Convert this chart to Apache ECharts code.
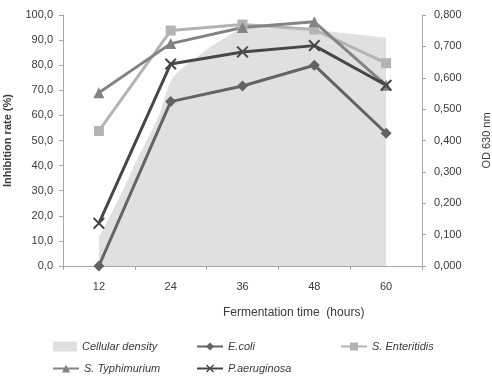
<!DOCTYPE html>
<html>
<head>
<meta charset="utf-8">
<script src="https://cdn.jsdelivr.net/npm/echarts@6/dist/echarts.min.js"></script>
<style>html,body{margin:0;padding:0;background:#fff;}#chart{width:492px;height:383px;}</style>
</head>
<body>
<div id="chart"></div>
<script>
var categories = ['12', '24', '36', '48', '60'];
var leftTicks = [0, 10, 20, 30, 40, 50, 60, 70, 80, 90, 100];
var rightTicks = [0, 0.1, 0.2, 0.3, 0.4, 0.5, 0.6, 0.7, 0.8];
var eColi = [0, 65.5, 71.7, 80.0, 52.9];
var sEnteritidis = [53.8, 93.8, 96.2, 94.2, 80.8];
var sTyphimurium = [69.0, 88.6, 95.0, 97.3, 72.0];
var pAeruginosa = [17.0, 80.5, 85.3, 87.8, 72.0];
var densityHours = [12, 14, 16, 18, 20, 22, 24, 26, 28, 30, 32, 34, 36, 42, 48, 60];
var densityOD = [0.092, 0.165, 0.24, 0.325, 0.40, 0.478, 0.59, 0.632, 0.66, 0.69, 0.715, 0.738, 0.758, 0.757, 0.752, 0.727];

var FONT = 'Liberation Sans';
var TXT = '#3a3a3a';
var AX = '#a6a6a6';

var densityData = densityHours.map(function (h, i) { return [h, densityOD[i]]; });
var xMark = 'path://M0,1.2L1.2,0L5,3.8L8.8,0L10,1.2L6.2,5L10,8.8L8.8,10L5,6.2L1.2,10L0,8.8L3.8,5Z';

function leg(name, left, top, w, h, icon) {
  var o = {
    data: [name], left: left, top: top, itemWidth: w, itemHeight: h, itemGap: 0, padding: 0,
    textStyle: { fontFamily: FONT, fontSize: 11, fontStyle: 'italic', color: TXT }
  };
  if (icon) o.icon = icon;
  return o;
}

var chart = echarts.init(document.getElementById('chart'), null, { renderer: 'canvas' });
chart.setOption({
  animation: false,
  backgroundColor: '#ffffff',
  grid: { left: 63, right: 70, top: 15, bottom: 117, containLabel: false, outerBoundsMode: 'none' },
  legend: [
    leg('Cellular density', 53, 341, 24, 10, 'rect'),
    leg('E.coli', 196, 341, 26, 10),
    leg('S. Enteritidis', 340, 341, 26, 10),
    leg('S. Typhimurium', 52, 363, 26, 10),
    leg('P.aeruginosa', 196, 363, 26, 10)
  ],
  graphic: [{
    type: 'text', left: 223, top: 307,
    style: { text: 'Fermentation time  (hours)', font: '12px "' + FONT + '"', fill: TXT }
  }],
  xAxis: [{
    type: 'category', data: categories, boundaryGap: true,
    axisLine: { lineStyle: { color: AX, width: 1 } },
    axisTick: { show: true, length: 4, inside: false, lineStyle: { color: AX } },
    axisLabel: { color: TXT, fontFamily: FONT, fontSize: 11, margin: 15 },
    splitLine: { show: false }
  }, {
    type: 'value', min: 6, max: 66, show: false
  }],
  yAxis: [{
    type: 'value', min: leftTicks[0], max: leftTicks[leftTicks.length - 1], interval: 10,
    name: 'Inhibition rate (%)', nameLocation: 'middle', nameGap: 50, nameRotate: 90,
    nameTextStyle: { fontFamily: FONT, fontSize: 11, fontWeight: 'bold', color: TXT },
    axisLine: { show: true, lineStyle: { color: AX } },
    axisTick: { show: true, length: 4, lineStyle: { color: AX } },
    axisLabel: { color: TXT, fontFamily: FONT, fontSize: 11, margin: 10,
      formatter: function (v) { return v.toFixed(1).replace('.', ','); } },
    splitLine: { show: false }
  }, {
    type: 'value', min: rightTicks[0], max: rightTicks[rightTicks.length - 1], interval: 0.1,
    name: 'OD 630 nm', nameLocation: 'middle', nameGap: 59, nameRotate: 90,
    nameTextStyle: { fontFamily: FONT, fontSize: 11, color: TXT },
    position: 'right',
    axisLine: { show: true, lineStyle: { color: AX } },
    axisTick: { show: true, length: 4, lineStyle: { color: AX } },
    axisLabel: { color: TXT, fontFamily: FONT, fontSize: 11, margin: 12,
      formatter: function (v) { return v.toFixed(3).replace('.', ','); } },
    splitLine: { show: false }
  }],
  series: [{
    name: 'Cellular density', type: 'line', xAxisIndex: 1, yAxisIndex: 1,
    data: densityData, symbol: 'none', smooth: 0.3,
    lineStyle: { width: 0, color: '#e0e0e0' },
    itemStyle: { color: '#e0e0e0' },
    areaStyle: { color: '#e0e0e0', opacity: 1 }
  }, {
    name: 'E.coli', type: 'line', data: eColi, symbol: 'diamond', symbolSize: 11,
    lineStyle: { width: 3, color: '#636363' }, itemStyle: { color: '#636363' }
  }, {
    name: 'S. Enteritidis', type: 'line', data: sEnteritidis, symbol: 'rect', symbolSize: 10,
    lineStyle: { width: 3, color: '#b3b3b3' }, itemStyle: { color: '#b3b3b3' }
  }, {
    name: 'S. Typhimurium', type: 'line', data: sTyphimurium, symbol: 'triangle', symbolSize: 11,
    lineStyle: { width: 3, color: '#838383' }, itemStyle: { color: '#838383' }
  }, {
    name: 'P.aeruginosa', type: 'line', data: pAeruginosa, symbol: xMark, symbolSize: 12,
    lineStyle: { width: 3, color: '#474747' }, itemStyle: { color: '#474747' }
  }]
});
</script>
</body>
</html>
